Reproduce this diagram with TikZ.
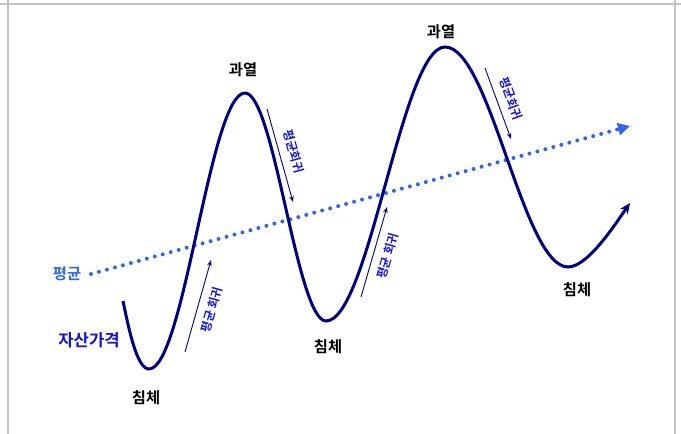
\documentclass[tikz,border=0pt]{standalone}
\usepackage{fontspec}
\usepackage{tikz}
\usetikzlibrary{arrows.meta, positioning, calc}
\newfontfamily\krfont{Noto Sans CJK KR Bold}
\definecolor{curvenavy}{RGB}{0,0,128}
\definecolor{meanblue}{RGB}{51,102,238}
\definecolor{pricetext}{RGB}{20,20,204}
\definecolor{revblue}{RGB}{20,20,210}
\definecolor{revnavy}{RGB}{10,10,110}
\definecolor{framegray}{RGB}{195,195,195}
\tikzset{
    pricecurve/.style={draw=curvenavy, line width=2.25pt, -{Stealth[length=8pt, width=7pt]}},
    meanline/.style={draw=meanblue, line width=3pt, line cap=round, dash pattern=on 0pt off 6.2pt, -{Triangle[length=9pt, width=9pt]}},
    revarrow/.style={draw=revnavy, line width=0.7pt, -{Stealth[length=4.5pt, width=3.5pt]}},
    revlabel/.style={font=\krfont\fontsize{9}{10}\selectfont, text=revblue, sloped, inner sep=2pt},
    phaselabel/.style={font=\krfont\fontsize{11.5}{13}\selectfont, text=black},
    sidelabel/.style={font=\krfont\fontsize{#1}{14}\selectfont, inner sep=0pt}
}

\begin{document}
\begin{tikzpicture}[x=0.75pt, y=0.75pt]
\useasboundingbox (0,0) rectangle (681,434);

% frame
\draw[framegray, line width=1.5pt] (0,430) -- (681,430);
\draw[framegray, line width=1.5pt] (8,434) -- (8,0);
\draw[framegray, line width=1.5pt] (675,434) -- (675,0);

% mean line
\coordinate (meanstart) at (91,160);
\coordinate (meanend) at (630,308);
\draw[meanline] (meanstart) -- (meanend);

% price curve
\coordinate (s0) at (123,133);
\coordinate (t1) at (149,65);
\coordinate (p1) at (245,341);
\coordinate (t2) at (326,113);
\coordinate (p2) at (445,387);
\coordinate (t3) at (568,167);
\coordinate (e0) at (630,231);
\draw[pricecurve] (s0) .. controls (129,104) and (137,65) .. (t1)
    .. controls (184,65) and (210,341) .. (p1)
    .. controls (274,341) and (297,113) .. (t2)
    .. controls (369,113) and (402,387) .. (p2)
    .. controls (490,387) and (523,167) .. (t3)
    .. controls (588,167) and (616,211) .. (e0);

% reversion arrows
\coordinate (d1a) at (267,325);
\coordinate (d1b) at (293,232);
\coordinate (u1a) at (185,82);
\coordinate (u1b) at (211,174);
\coordinate (u2a) at (361,137);
\coordinate (u2b) at (387,227);
\coordinate (d2a) at (485,366);
\coordinate (d2b) at (511,295);
\draw[revarrow] (d1a) -- node[revlabel, above=4pt] (rev1) {평균회귀} (d1b);
\draw[revarrow] (u1a) -- node[revlabel, below=4pt] (rev2) {평균 회귀} (u1b);
\draw[revarrow] (u2a) -- node[revlabel, below=4pt] (rev3) {평균 회귀} (u2b);
\draw[revarrow] (d2a) -- node[revlabel, above=4pt] (rev4) {평균회귀} (d2b);

% phase labels
\node[phaselabel] (hot1) at (243,364) {과열};
\node[phaselabel] (hot2) at (441,402) {과열};
\node[phaselabel] (low1) at (146,36) {침체};
\node[phaselabel] (low2) at (328,87) {침체};
\node[phaselabel] (low3) at (577,144) {침체};
\node[sidelabel=11.5, text=meanblue] (meanlbl) at (67,160) {평균};
\node[sidelabel=12.5, text=pricetext] (pricelbl) at (89,94) {자산가격};

\end{tikzpicture}
\end{document}
